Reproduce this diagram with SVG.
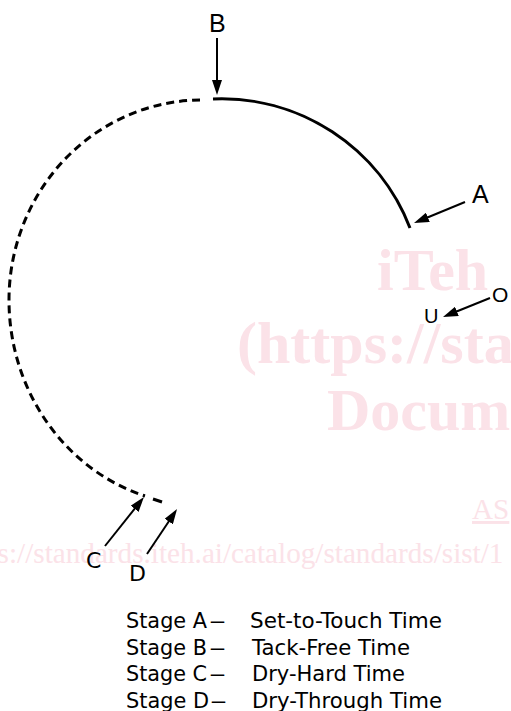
<svg xmlns="http://www.w3.org/2000/svg" width="511" height="711" viewBox="0 0 511 711">
<defs>
<style>
.wm{font-family:"Liberation Serif",serif;fill:#fbe2e8}
.wmb{font-weight:bold;font-size:60px}
.wms{font-size:29.2px}
.lbl{font-family:"Liberation Sans",Arial,sans-serif;fill:#000}
.lbl2{font-family:"DejaVu Sans",Verdana,sans-serif;fill:#000}
.leg{font-family:"DejaVu Sans",Verdana,sans-serif;font-size:21.5px;fill:#000}
.arr{stroke:#000;stroke-width:2;fill:none;marker-end:url(#ah)}
.solid{stroke:#000;stroke-width:3;fill:none}
.dash{stroke:#000;stroke-width:3;fill:none;stroke-dasharray:8 5}
</style>
<marker id="ah" viewBox="0 0 15 10" refX="7" refY="5" markerWidth="15" markerHeight="10" markerUnits="userSpaceOnUse" orient="auto">
<path d="M0,0 L15,5 L0,10 z" fill="#000"/>
</marker>
</defs>
<rect width="511" height="711" fill="#fff"/>
<g id="watermark">
<text class="wm wmb" x="377" y="290">iTeh</text>
<text class="wm wmb" x="237" y="363">(https://sta</text>
<text class="wm wmb" x="327" y="430">Docum</text>
<text class="wm wms" x="472" y="519" text-decoration="underline">AS</text>
<text class="wm wms" x="-17" y="563">ps://standards.iteh.ai/catalog/standards/sist/1</text>
</g>
<g id="curve">
<path class="solid" d="M213,99 A202,202 0 0 1 410,228"/>
<path class="dash" d="M200,100 A193,200 0 0 0 9,300 A193,205 0 0 0 145,496"/>
<path class="solid" d="M153,499 L162,502"/>
</g>
<g id="connectors">
<line class="arr" x1="217" y1="38" x2="217" y2="87"/>
<line class="arr" x1="465" y1="202" x2="421.4" y2="220"/>
<line class="arr" x1="490" y1="298" x2="450.4" y2="314"/>
<line class="arr" x1="105" y1="546" x2="139" y2="503.3"/>
<line class="arr" x1="147" y1="554" x2="172.6" y2="515.7"/>
</g>
<g id="label-B"><text class="lbl" x="209" y="32" font-size="25">B</text></g>
<g id="label-A"><text class="lbl" x="472" y="203" font-size="25">A</text></g>
<g id="label-O"><text class="lbl" x="492" y="302" font-size="21">O</text></g>
<g id="label-U"><text class="lbl" x="424" y="323" font-size="20">U</text></g>
<g id="label-C"><text class="lbl2" x="86" y="568" font-size="22">C</text></g>
<g id="label-D"><text class="lbl2" x="129" y="581" font-size="22">D</text></g>
<g id="legend">
<text class="leg" y="628"><tspan x="126" textLength="81" lengthAdjust="spacingAndGlyphs">Stage A</tspan><tspan x="210" textLength="15" lengthAdjust="spacingAndGlyphs">—</tspan><tspan x="250" textLength="192" lengthAdjust="spacingAndGlyphs">Set-to-Touch Time</tspan></text>
<text class="leg" y="654.5"><tspan x="126" textLength="81" lengthAdjust="spacingAndGlyphs">Stage B</tspan><tspan x="210" textLength="15" lengthAdjust="spacingAndGlyphs">—</tspan><tspan x="252" textLength="158" lengthAdjust="spacingAndGlyphs">Tack-Free Time</tspan></text>
<text class="leg" y="681"><tspan x="126" textLength="81" lengthAdjust="spacingAndGlyphs">Stage C</tspan><tspan x="210" textLength="15" lengthAdjust="spacingAndGlyphs">—</tspan><tspan x="252" textLength="153" lengthAdjust="spacingAndGlyphs">Dry-Hard Time</tspan></text>
<text class="leg" y="707.5"><tspan x="126" textLength="83" lengthAdjust="spacingAndGlyphs">Stage D</tspan><tspan x="211" textLength="15" lengthAdjust="spacingAndGlyphs">—</tspan><tspan x="252" textLength="190" lengthAdjust="spacingAndGlyphs">Dry-Through Time</tspan></text>
</g>
</svg>
